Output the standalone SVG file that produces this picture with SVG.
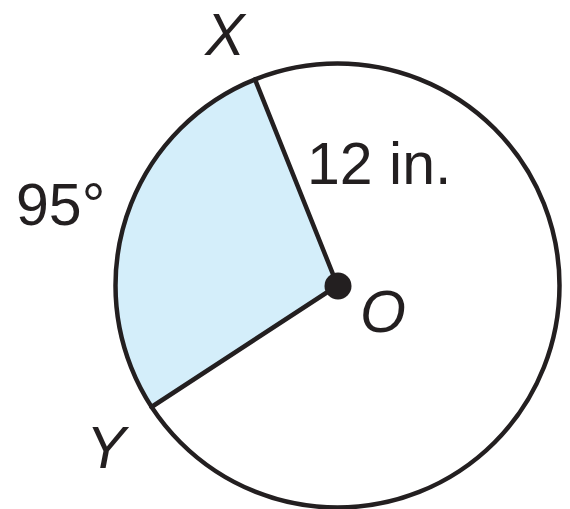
<svg xmlns="http://www.w3.org/2000/svg" width="570" height="509" viewBox="0 0 570 509">
  <style>
    .ln { stroke: #231f20; stroke-width: 4.5; fill: none; stroke-linecap: round; }
    .lbl { font-family: "Liberation Sans", Arial, sans-serif; font-size: 59px; fill: #231f20; }
    .it { font-style: italic; }
  </style>
  <rect width="570" height="509" fill="#ffffff"/>
  <g id="sector">
    <path d="M 337.5 285.5 L 255 79.4 A 222 222 0 0 0 151.5 407 Z" fill="#d4eefa"/>
  </g>
  <g id="circle">
    <circle class="ln" cx="337.5" cy="285.5" r="222"/>
  </g>
  <g id="connectors">
    <line class="ln" x1="337.5" y1="285.5" x2="255" y2="79.4"/>
    <line class="ln" x1="337.5" y1="285.5" x2="151.5" y2="407"/>
  </g>
  <g id="center-O">
    <circle cx="338" cy="286" r="13.5" fill="#231f20"/>
    <text class="lbl it" x="383" y="332" text-anchor="middle">O</text>
  </g>
  <g id="point-X">
    <text class="lbl it" x="225" y="55" text-anchor="middle">X</text>
  </g>
  <g id="point-Y">
    <text class="lbl it" x="106" y="468" text-anchor="middle">Y</text>
  </g>
  <g id="label-radius">
    <text class="lbl" x="307" y="184">12 in.</text>
  </g>
  <g id="label-angle">
    <text class="lbl" x="16" y="225">95°</text>
  </g>
</svg>
